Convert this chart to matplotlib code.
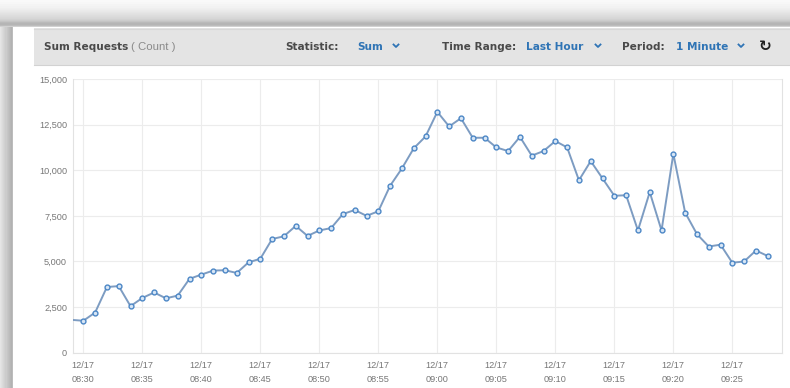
import matplotlib
matplotlib.use("Agg")
import matplotlib.pyplot as plt
import matplotlib.dates as mdates
import numpy as np
import pandas as pd

# Sum Requests per minute, 12/17 08:29 - 09:28
times = pd.date_range("2014-12-17 08:29", "2014-12-17 09:28", freq="min")
requests = [1800, 1750, 2200, 3600, 3650, 2550, 3000, 3300, 2980, 3130,
            4050, 4280, 4500, 4520, 4370, 4950, 5150, 6230, 6380, 6950,
            6400, 6700, 6830, 7600, 7820, 7500, 7750, 9150, 10100, 11200,
            11850, 13200, 12400, 12850, 11780, 11780, 11250, 11050, 11830, 10800,
            11050, 11600, 11250, 9450, 10500, 9550, 8600, 8630, 6700, 8800,
            6700, 10900, 7680, 6500, 5820, 5920, 4930, 5000, 5600, 5300]
yticks = [0, 2500, 5000, 7500, 10000, 12500, 15000]

W, H = 790, 388
fig = plt.figure(figsize=(W / 100, H / 100), dpi=100)

# screenshot frame: grey shadow bands on top and left
bg = fig.add_axes([0, 0, 1, 1])
img = np.ones((H, W, 3))
top = np.array([0.98, 0.98, 0.97, 0.97, 0.96, 0.96, 0.95, 0.95, 0.94, 0.93,
                0.92, 0.91, 0.90, 0.89, 0.88, 0.87, 0.86, 0.85, 0.84, 0.82,
                0.80, 0.77, 0.73, 0.71, 0.71, 0.74, 0.82])
for i, v in enumerate(top):
    img[i, :, :] = v
left = np.array([0.90, 0.88, 0.86, 0.84, 0.82, 0.80, 0.80, 0.78, 0.76, 0.74,
                 0.72, 0.70, 0.74])
for j, v in enumerate(left):
    img[27:, j, :] = v
bg.imshow(img, extent=[0, W, H, 0], aspect="auto")
bg.set_xlim(0, W)
bg.set_ylim(H, 0)
bg.axis("off")

# header bar
bg.add_patch(plt.Rectangle((34, 28), W - 34, 37, color="#e4e4e4", lw=0))
bg.plot([34, W], [65, 65], color="#d2d2d2", lw=0.8)
bg.plot([34, W], [28.5, 28.5], color="#d8d8d8", lw=0.8)

hy = 46.5
dark = "#4a4a4a"
blue = "#2f74b5"
fs = 7.6
bg.text(44, hy, "Sum Requests", fontsize=fs, fontweight="bold", color=dark, va="center")
bg.text(131, hy, "( Count )", fontsize=8.2, color="#8a8a8a", va="center",
        family="Liberation Sans")
bg.text(285, hy, "Statistic:", fontsize=fs, fontweight="bold", color=dark, va="center")
bg.text(357, hy, "Sum", fontsize=fs, fontweight="bold", color=blue, va="center")
bg.text(442, hy, "Time Range:", fontsize=fs, fontweight="bold", color=dark, va="center")
bg.text(526, hy, "Last Hour", fontsize=fs, fontweight="bold", color=blue, va="center")
bg.text(622, hy, "Period:", fontsize=fs, fontweight="bold", color=dark, va="center")
bg.text(676, hy, "1 Minute", fontsize=fs, fontweight="bold", color=blue, va="center")
for cx in [396, 598, 741]:
    bg.plot([cx - 2.5, cx, cx + 2.5], [hy - 2, hy + 0.5, hy - 2], color=blue, lw=1.3)
bg.text(765, hy, "\u21bb", fontsize=11, fontweight="bold", color="#222222",
        va="center", ha="center")

# chart
ax = fig.add_axes([72.7 / W, 1 - 352.7 / H, (781.7 - 72.7) / W, (352.7 - 79) / H])
ax.set_facecolor("none")
ax.plot(times, requests, color="#7d9cc2", lw=1.4, zorder=3,
        marker="o", ms=3.5, mfc="#d8e6f5", mec="#4c87c6", mew=1.0,
        markevery=slice(1, None))

start = pd.Timestamp("2014-12-17 08:29:06")
end = pd.Timestamp("2014-12-17 09:29:11")
ax.set_xlim(start, end)
ax.set_ylim(0, 15000)
ax.set_yticks(yticks)
ax.set_yticklabels([f"{v:,}" for v in yticks])
ax.xaxis.set_major_locator(mdates.MinuteLocator(byminute=range(0, 60, 5)))
ax.xaxis.set_major_formatter(mdates.DateFormatter("%m/%d\n%H:%M"))
ax.grid(True, color="#ececec", lw=0.8)
ax.set_axisbelow(True)
for s in ax.spines.values():
    s.set_color("#e2e2e2")
    s.set_linewidth(0.8)
ax.spines["top"].set_visible(False)
ax.tick_params(length=0, labelsize=6.6, labelcolor="#777777")
ax.tick_params(axis="y", pad=4)
ax.tick_params(axis="x", pad=6)
for lab in ax.get_xticklabels() + ax.get_yticklabels():
    lab.set_family("Liberation Sans")
for lab in ax.get_xticklabels():
    lab.set_linespacing(1.75)

fig.savefig("out.png", dpi=100)
